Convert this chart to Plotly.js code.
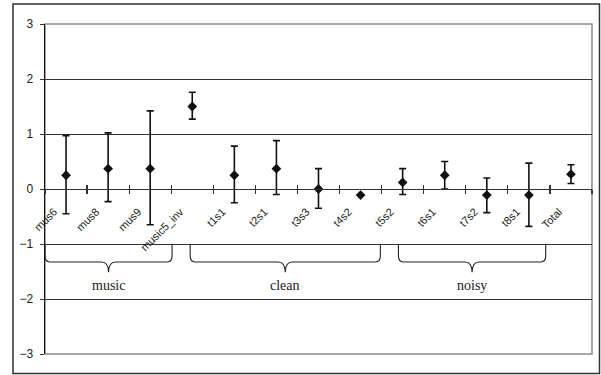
<!DOCTYPE html>
<html>
<head>
<meta charset="utf-8">
<script src="https://cdn.plot.ly/plotly-3.0.1.min.js"></script>
<style>html,body{margin:0;padding:0;background:#fff;}#chart{width:601px;height:375px;}</style>
</head>
<body>
<div id="chart"></div>
<script>
// Data
var categories = ['mus6','mus8','mus9','music5_inv','t1s1','t2s1','t3s3','t4s2','t5s2','t6s1','t7s2','t8s1','Total'];
var means = [0.25, 0.37, 0.37, 1.50, 0.25, 0.37, 0.00, -0.11, 0.12, 0.25, -0.11, -0.11, 0.27];
var upper = [0.97, 1.02, 1.42, 1.76, 0.78, 0.88, 0.37, -0.11, 0.37, 0.50, 0.20, 0.47, 0.44];
var lower = [-0.45, -0.23, -0.65, 1.27, -0.25, -0.10, -0.35, -0.11, -0.10, 0.00, -0.43, -0.68, 0.10];

// Group braces (in category-index units)
var groupNames = ['music', 'clean', 'noisy'];
var groupFrom = [-0.5, 2.95, 7.9];
var groupTo = [2.52, 7.47, 11.4];

var errPlus = means.map(function (m, i) { return upper[i] - m; });
var errMinus = means.map(function (m, i) { return m - lower[i]; });

var traces = [
  {
    type: 'scatter', mode: 'markers', x: categories, y: means,
    marker: { symbol: 'diamond', size: 7.5, color: '#111' },
    error_y: { type: 'data', symmetric: false, array: errPlus, arrayminus: errMinus,
               color: '#111', thickness: 1.6, width: 3.5 },
    showlegend: false, hoverinfo: 'x+y'
  },
  {
    type: 'scatter', mode: 'none', x: categories, y: means, xaxis: 'x2',
    showlegend: false, hoverinfo: 'skip'
  }
];

var shapes = [];
var annotations = [];
var yTop = -1, yCorner = -1.22, yBar = -1.327, yTip = -1.515, rx = 0.12, rx2 = 0.17;
for (var g = 0; g < groupNames.length; g++) {
  var x0 = groupFrom[g], x1 = groupTo[g], xm = (x0 + x1) / 2;
  var p = 'M ' + x0 + ',' + yTop + ' L ' + x0 + ',' + yCorner +
          ' Q ' + x0 + ',' + yBar + ' ' + (x0 + rx) + ',' + yBar +
          ' L ' + (xm - rx2) + ',' + yBar +
          ' Q ' + xm + ',' + yBar + ' ' + xm + ',' + yTip +
          ' Q ' + xm + ',' + yBar + ' ' + (xm + rx2) + ',' + yBar +
          ' L ' + (x1 - rx) + ',' + yBar +
          ' Q ' + x1 + ',' + yBar + ' ' + x1 + ',' + yCorner +
          ' L ' + x1 + ',' + yTop;
  shapes.push({ type: 'path', xref: 'x', yref: 'y', path: p, line: { color: '#222', width: 1.1 }, layer: 'above' });
  annotations.push({ x: xm, y: -1.76, xref: 'x', yref: 'y', text: groupNames[g], showarrow: false,
                     font: { family: 'Liberation Serif', size: 14, color: '#222' } });
}
// plot-area border (gray)
shapes.push({ type: 'rect', xref: 'paper', yref: 'paper', x0: 0, x1: 1, y0: 0, y1: 1,
              line: { color: '#8a8a8a', width: 1.5 }, layer: 'between' });
// outer chart frame
shapes.push({ type: 'rect', xref: 'paper', yref: 'paper', x0: -0.0585, x1: 1.0137, y0: -0.059, y1: 1.0606,
              line: { color: '#333', width: 1.5 }, layer: 'above' });

var layout = {
  width: 601, height: 375,
  margin: { l: 45, r: 9, t: 24, b: 21 },
  paper_bgcolor: '#fff', plot_bgcolor: '#fff',
  font: { family: 'Liberation Sans', color: '#222' },
  showlegend: false,
  xaxis: {
    type: 'category', categoryorder: 'array', categoryarray: categories,
    range: [-0.5, categories.length - 0.5],
    anchor: 'free', position: 0.5,
    showline: true, linecolor: '#333', linewidth: 1.2,
    showgrid: false, zeroline: false,
    ticks: 'outside', tickson: 'boundaries', ticklen: 4, tickcolor: '#333', tickwidth: 1.2,
    tickangle: -45, tickfont: { size: 11, color: '#222' },
    ticklabelshift: -12, ticklabelstandoff: 11
  },
  xaxis2: {
    type: 'category', categoryorder: 'array', categoryarray: categories,
    range: [-0.5, categories.length - 0.5],
    overlaying: 'x', anchor: 'free', position: 0.5, side: 'bottom',
    showline: false, showgrid: false, zeroline: false, showticklabels: false,
    ticks: 'inside', tickson: 'boundaries', ticklen: 4, tickcolor: '#333', tickwidth: 1.2
  },
  yaxis: {
    range: [-3, 3], dtick: 1, tick0: 0,
    showline: true, linecolor: '#111', linewidth: 1.5,
    showgrid: true, gridcolor: '#333', gridwidth: 1,
    zeroline: false,
    ticks: 'outside', ticklen: 4, tickcolor: '#333',
    tickfont: { size: 12, color: '#222' }, ticklabelstandoff: 4
  },
  shapes: shapes,
  annotations: annotations
};

Plotly.newPlot('chart', traces, layout, { displayModeBar: false, staticPlot: true });
</script>
</body>
</html>
